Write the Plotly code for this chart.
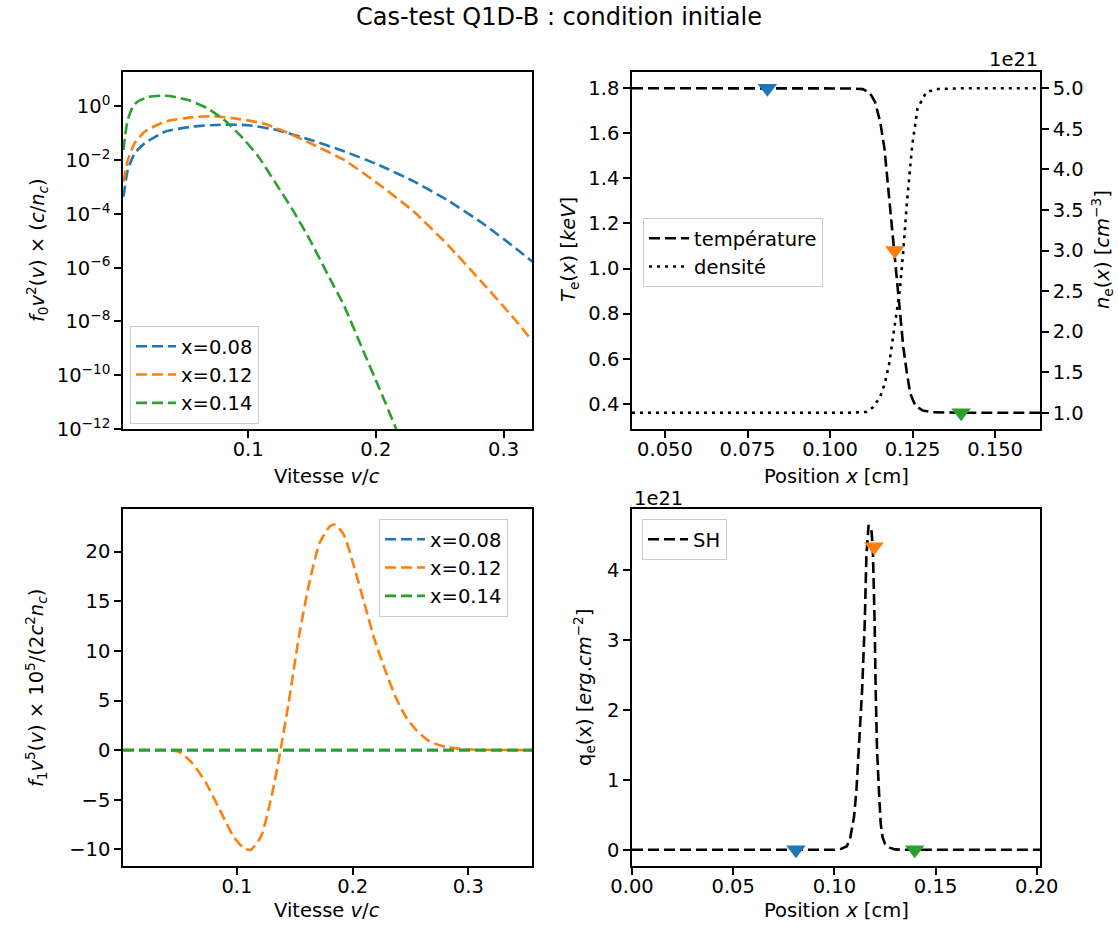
import plotly.graph_objects as go

# ---------------- data ----------------
# Top-left: f0 v^2 (log scale)
v_f0_blue = [0.0024, 0.0057, 0.0111, 0.0191, 0.0353, 0.0569, 0.0784, 0.1000, 0.1216, 0.1485,
             0.1755, 0.2024, 0.2294, 0.2563, 0.2833, 0.3102, 0.3224]
f0_blue = [4.4e-4, 4.4e-3, 1.8e-2, 4.3e-2, 0.117, 0.178, 0.209, 0.200, 0.135, 5.75e-2,
           2.1e-2, 6.6e-3, 1.66e-3, 3.2e-4, 4.6e-5, 5.0e-6, 1.7e-6]
v_f0_orange = [0.0024, 0.0057, 0.0111, 0.0191, 0.0353, 0.0569, 0.0730, 0.0892, 0.1108, 0.1270,
               0.1485, 0.1755, 0.2024, 0.2294, 0.2563, 0.2833, 0.3102, 0.3224]
f0_orange = [1.6e-3, 1.0e-2, 4.3e-2, 0.117, 0.275, 0.40, 0.43, 0.36, 0.24, 0.126,
             4.3e-2, 1.0e-2, 1.26e-3, 1.26e-4, 7.1e-6, 2.8e-7, 1.0e-8, 1.9e-9]
v_f0_green = [0.0024, 0.0035, 0.0057, 0.0097, 0.0137, 0.0218, 0.0326, 0.0407, 0.0542, 0.0677,
              0.0811, 0.0946, 0.1081, 0.1216, 0.1350, 0.1485, 0.1620, 0.1755, 0.1889, 0.2024,
              0.2159, 0.2294]
f0_green = [2.4e-2, 7.6e-2, 0.32, 1.0, 1.55, 2.24, 2.51, 2.34, 1.66, 0.87,
            0.32, 7.6e-2, 1.35e-2, 1.38e-3, 1.38e-4, 1.05e-5, 6.0e-7, 3.5e-8, 1.1e-9, 3.5e-11,
            1.0e-12, 1.6e-14]
series_labels = ["x=0.08", "x=0.12", "x=0.14"]
series_colors = ["#1f77b4", "#ff7f0e", "#2ca02c"]
log_tick_vals = [1e-12, 1e-10, 1e-8, 1e-6, 1e-4, 1e-2, 1e0]
log_tick_text = ["10<sup>−12</sup>", "10<sup>−10</sup>", "10<sup>−8</sup>", "10<sup>−6</sup>",
                 "10<sup>−4</sup>", "10<sup>−2</sup>", "10<sup>0</sup>"]

# Top-right: temperature (keV) and density (1e21 cm^-3)
x_temp = [0.040, 0.100, 0.106, 0.1099, 0.1120, 0.1136, 0.1152, 0.1165, 0.1174, 0.1182, 0.1190,
          0.1198, 0.1206, 0.1214, 0.1222, 0.1233, 0.1243, 0.1259, 0.1281, 0.1313, 0.140, 0.1636]
temp = [1.8, 1.8, 1.799, 1.796, 1.78, 1.74, 1.65, 1.53, 1.39, 1.25, 1.13,
        1.02, 0.875, 0.76, 0.65, 0.534, 0.445, 0.39, 0.37, 0.362, 0.36, 0.36]
x_dens = [0.040, 0.105, 0.1110, 0.1131, 0.1152, 0.1165, 0.1179, 0.1190, 0.1201, 0.1211, 0.1222,
          0.1233, 0.1249, 0.1265, 0.1291, 0.1323, 0.140, 0.1636]
dens_e21 = [1.0, 1.0, 1.01, 1.07, 1.2, 1.35, 1.6, 1.9, 2.2, 2.5, 3.0,
            3.6, 4.3, 4.75, 4.95, 4.99, 5.0, 5.0]
x_probe = [0.081, 0.1196, 0.1397]
temp_probe = [1.8, 1.08, 0.36]

# Bottom-left: f1 v^5
v_f1 = [0.0015, 0.0375, 0.0494, 0.0613, 0.0732, 0.0851, 0.0970, 0.1060, 0.1119, 0.1208,
        0.1298, 0.1372, 0.1446, 0.1536, 0.1625, 0.1714, 0.1804, 0.1848, 0.1923, 0.2012,
        0.2101, 0.2190, 0.2280, 0.2369, 0.2458, 0.2548, 0.2667, 0.2815, 0.2964, 0.3113, 0.355]
f1_orange = [0.0, 0.0, -0.15, -1.3, -3.3, -6.0, -8.7, -9.9, -10.05, -8.7,
             -4.7, -0.3, 4.73, 11.46, 16.84, 20.87, 22.56, 22.72, 21.7, 18.5,
             14.8, 11.1, 8.1, 5.4, 3.38, 2.04, 0.86, 0.29, 0.09, 0.03, 0.0]
f1_blue = [0.0] * len(v_f1)
f1_green = [0.0] * len(v_f1)

# Bottom-right: heat flux SH (1e21 erg.cm^-2)
x_q = [0.0, 0.100, 0.1035, 0.1062, 0.1079, 0.1097, 0.1109, 0.1123, 0.1137, 0.1150, 0.1158,
       0.1169, 0.1183, 0.1190, 0.1195, 0.1199, 0.1204, 0.1211, 0.1220, 0.1229, 0.1238,
       0.1250, 0.1273, 0.1299, 0.135, 0.2016]
q_sh_e21 = [0.0, 0.0, 0.014, 0.05, 0.18, 0.47, 0.85, 1.52, 2.28, 3.24, 4.19,
            4.64, 4.57, 4.30, 3.8, 3.24, 2.28, 1.42, 0.85, 0.37, 0.18,
            0.086, 0.03, 0.005, 0.0, 0.0]
q_probe = [0.0, 4.33, 0.0]

# ---------------- figure ----------------
W, H = 1118, 930
FONT = "DejaVu Sans"
FS = 19.5
LW = 2.6
DASH = "11px,5px"
DOT = "3px,5px"

def px_x(p):
    return p / W

def px_y(p):
    return 1 - p / H

fig = go.Figure()

# Top-left
f0_v = [v_f0_blue, v_f0_orange, v_f0_green]
f0_vals = [f0_blue, f0_orange, f0_green]
for i in range(3):
    fig.add_trace(go.Scatter(x=f0_v[i], y=f0_vals[i], mode="lines", name=series_labels[i],
                             line=dict(color=series_colors[i], width=LW, dash=DASH, shape="spline", smoothing=0.5),
                             xaxis="x", yaxis="y", legend="legend"))

# Top-right
fig.add_trace(go.Scatter(x=x_temp, y=temp, mode="lines", name="température",
                         line=dict(color="black", width=LW, dash=DASH),
                         xaxis="x2", yaxis="y2", legend="legend2"))
fig.add_trace(go.Scatter(x=x_dens, y=dens_e21, mode="lines", name="densité",
                         line=dict(color="black", width=LW, dash=DOT),
                         xaxis="x2", yaxis="y5", legend="legend2"))
for i in range(3):
    fig.add_trace(go.Scatter(x=[x_probe[i]], y=[temp_probe[i]], mode="markers", showlegend=False,
                             marker=dict(symbol="triangle-down", size=17, color=series_colors[i]),
                             xaxis="x2", yaxis="y2"))

# Bottom-left
f1_vals = [f1_blue, f1_orange, f1_green]
for i in range(3):
    fig.add_trace(go.Scatter(x=v_f1, y=f1_vals[i], mode="lines", name=series_labels[i],
                             line=dict(color=series_colors[i], width=LW, dash=DASH,
                                       shape="spline" if i == 1 else "linear", smoothing=0.6),
                             xaxis="x3", yaxis="y3", legend="legend3"))

# Bottom-right
fig.add_trace(go.Scatter(x=x_q, y=q_sh_e21, mode="lines", name="SH",
                         line=dict(color="black", width=LW, dash=DASH),
                         xaxis="x4", yaxis="y4", legend="legend4"))
for i in range(3):
    fig.add_trace(go.Scatter(x=[x_probe[i]], y=[q_probe[i]], mode="markers", showlegend=False,
                             marker=dict(symbol="triangle-down", size=17, color=series_colors[i]),
                             xaxis="x4", yaxis="y4"))

axis_common = dict(showline=True, linecolor="black", linewidth=1.5, mirror=True,
                   ticks="outside", ticklen=7, tickwidth=1.5, tickcolor="black",
                   showgrid=False, zeroline=False, automargin=False,
                   tickfont=dict(family=FONT, size=FS, color="black"))
xaxis_common = dict(axis_common, ticklabelstandoff=-5)

dom_left = [px_x(123), px_x(532)]
dom_right = [px_x(632), px_x(1040)]
dom_top = [px_y(429), px_y(72)]
dom_bot = [px_y(866), px_y(509)]

legend_common = dict(bgcolor="rgba(255,255,255,0.8)", bordercolor="#cccccc", borderwidth=1,
                     font=dict(family=FONT, size=FS, color="black"), xanchor="left", yanchor="top",
                     itemwidth=40)

fig.update_layout(
    width=W, height=H, margin=dict(l=0, r=0, t=0, b=0, autoexpand=False),
    plot_bgcolor="white", paper_bgcolor="white", hovermode=False,
    font=dict(family=FONT, size=FS, color="black"),
    xaxis=dict(domain=dom_left, anchor="y", range=[0.00196, 0.3223],
               tickvals=[0.1, 0.2, 0.3], ticktext=["0.1", "0.2", "0.3"], **xaxis_common),
    yaxis=dict(domain=dom_top, anchor="x", type="log", range=[-12, 1.28],
               tickvals=log_tick_vals, ticktext=log_tick_text, **axis_common),
    xaxis2=dict(domain=dom_right, anchor="y2", range=[0.040, 0.1636],
                tickvals=[0.05, 0.075, 0.1, 0.125, 0.15],
                ticktext=["0.050", "0.075", "0.100", "0.125", "0.150"], **xaxis_common),
    yaxis2=dict(domain=dom_top, anchor="x2", range=[0.288, 1.872],
                tickvals=[0.4, 0.6, 0.8, 1.0, 1.2, 1.4, 1.6, 1.8],
                ticktext=["0.4", "0.6", "0.8", "1.0", "1.2", "1.4", "1.6", "1.8"], **axis_common),
    yaxis5=dict(overlaying="y2", anchor="x2", side="right", range=[0.8, 5.2],
                tickvals=[1.0, 1.5, 2.0, 2.5, 3.0, 3.5, 4.0, 4.5, 5.0],
                ticktext=["1.0", "1.5", "2.0", "2.5", "3.0", "3.5", "4.0", "4.5", "5.0"],
                **{k: v for k, v in axis_common.items() if k != "mirror"}),
    xaxis3=dict(domain=dom_left, anchor="y3", range=[0.0015, 0.355],
                tickvals=[0.1, 0.2, 0.3], ticktext=["0.1", "0.2", "0.3"], **xaxis_common),
    yaxis3=dict(domain=dom_bot, anchor="x3", range=[-11.68, 24.3],
                tickvals=[-10, -5, 0, 5, 10, 15, 20],
                ticktext=["−10", "−5", "0", "5", "10", "15", "20"], **axis_common),
    xaxis4=dict(domain=dom_right, anchor="y4", range=[0.0, 0.2016],
                tickvals=[0.0, 0.05, 0.1, 0.15, 0.2],
                ticktext=["0.00", "0.05", "0.10", "0.15", "0.20"], **xaxis_common),
    yaxis4=dict(domain=dom_bot, anchor="x4", range=[-0.232, 4.869],
                tickvals=[0, 1, 2, 3, 4], ticktext=["0", "1", "2", "3", "4"], **axis_common),
    legend=dict(x=px_x(130), y=px_y(326), **legend_common),
    legend2=dict(x=px_x(643), y=px_y(218), **legend_common),
    legend3=dict(x=px_x(379), y=px_y(519), **legend_common),
    legend4=dict(x=px_x(642), y=px_y(519), **legend_common),
)

annotations = [
    dict(text="Cas-test Q1D-B : condition initiale", x=0.5, y=px_y(17), font=dict(size=24)),
    dict(text="<i>f</i><sub>0</sub><i>v</i><sup>2</sup>(<i>v</i>) × (<i>c</i>/<i>n</i><sub><i>c</i></sub>)",
         x=px_x(37), y=px_y(250), textangle=-90),
    dict(text="Vitesse <i>v</i>/<i>c</i>", x=px_x(327), y=px_y(476)),
    dict(text="<i>T</i><sub>e</sub>(<i>x</i>) [<i>keV</i>]", x=px_x(570), y=px_y(250), textangle=-90),
    dict(text="<i>n</i><sub>e</sub>(<i>x</i>) [<i>cm</i><sup>−3</sup>]", x=px_x(1102), y=px_y(250), textangle=-90),
    dict(text="Position <i>x</i> [cm]", x=px_x(836), y=px_y(476)),
    dict(text="1e21", x=px_x(1040), y=px_y(60), xanchor="right"),
    dict(text="<i>f</i><sub>1</sub><i>v</i><sup>5</sup>(<i>v</i>) × 10<sup>5</sup>/(2<i>c</i><sup>2</sup><i>n</i><sub><i>c</i></sub>)",
         x=px_x(36), y=px_y(688), textangle=-90),
    dict(text="Vitesse <i>v</i>/<i>c</i>", x=px_x(327), y=px_y(910)),
    dict(text="q<sub>e</sub>(x) [<i>erg</i>.<i>cm</i><sup>−2</sup>]", x=px_x(584), y=px_y(688), textangle=-90),
    dict(text="Position <i>x</i> [cm]", x=px_x(836), y=px_y(910)),
    dict(text="1e21", x=px_x(632), y=px_y(498), xanchor="left"),
]
for a in annotations:
    a.setdefault("xanchor", "center")
    a.setdefault("yanchor", "middle")
    a["xref"] = "paper"
    a["yref"] = "paper"
    a["showarrow"] = False
    a.setdefault("font", dict(size=FS))
    a["font"] = dict(family=FONT, color="black", **a["font"])
fig.update_layout(annotations=annotations)

fig.write_html("out.html", config={"displayModeBar": False},
               post_script="document.body.style.margin='0';document.body.style.padding='0';")
